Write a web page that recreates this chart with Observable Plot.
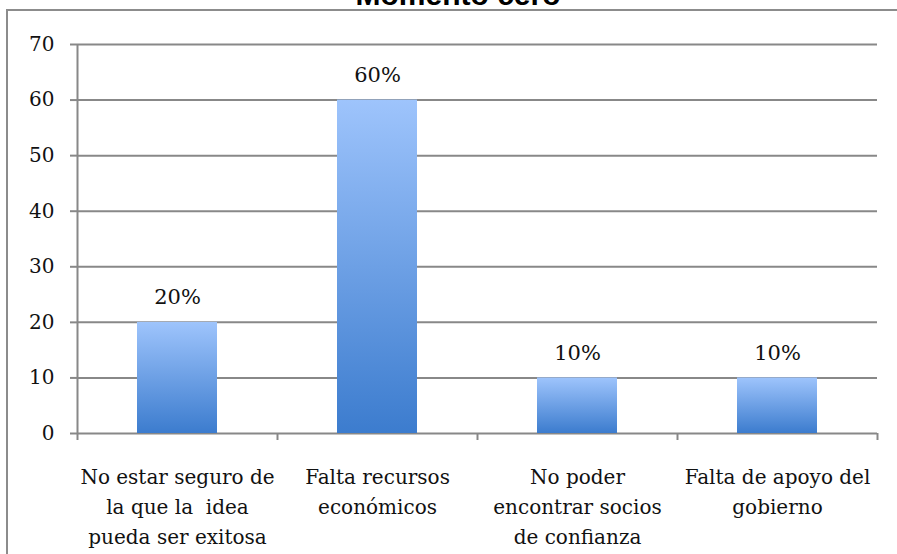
<!DOCTYPE html>
<html><head><meta charset="utf-8">
<script src="https://cdn.jsdelivr.net/npm/d3@7"></script>
<script src="https://cdn.jsdelivr.net/npm/@observablehq/plot@0.6"></script>
<style>
html,body{margin:0;padding:0;background:#fff;overflow:hidden;}
#wrap{position:relative;width:897px;height:554px;overflow:hidden;}
#frame{position:absolute;left:6px;top:9px;width:1000px;height:1000px;border-left:2px solid #8c8c8c;border-top:2px solid #8c8c8c;box-sizing:border-box;}
#title{position:absolute;left:0;width:916px;top:-20px;text-align:center;font:bold 30px "Liberation Sans",Arial,sans-serif;line-height:30px;color:#000;}
#chart{position:absolute;left:0;top:0;}
#chart text{white-space:pre;}
</style></head>
<body>
<div id="wrap">
  <div id="frame"></div>
  <div id="chart"></div>
  <div id="title">Momento cero</div>
</div>
<script>
const categories = [
  "No estar seguro de\nla que la  idea\npueda ser exitosa",
  "Falta recursos\neconómicos",
  "No poder\nencontrar socios\nde confianza",
  "Falta de apoyo del\ngobierno"
];
const values = [20, 60, 10, 10];
const valueLabels = ["20%", "60%", "10%", "10%"];
const yTicks = [0, 10, 20, 30, 40, 50, 60, 70];

const data = categories.map((c, i) => ({i, cat: c, value: values[i], label: valueLabels[i]}));
const bounds = d3.range(categories.length + 1);
const gray = "#888888";
const lw = 2;

const svg = Plot.plot({
  width: 897,
  height: 554,
  marginLeft: 77,
  marginRight: 20,
  marginTop: 44,
  marginBottom: 121,
  style: {fontFamily: "'DejaVu Serif', serif", fontSize: "20px", color: "#111", background: "transparent"},
  x: {domain: [0, categories.length]},
  y: {domain: [0, 70]},
  marks: [
    Plot.gridY(yTicks, {stroke: gray, strokeOpacity: 1, strokeWidth: lw}),
    Plot.axisY({ticks: yTicks, tickSize: 7, tickFormat: () => "", stroke: gray, strokeWidth: lw, label: null}),
    Plot.axisY({ticks: yTicks, tickSize: 0, tickPadding: 23, fill: "#111", fontSize: 20, label: null}),
    Plot.axisX({ticks: bounds, tickSize: 7, tickFormat: () => "", stroke: gray, strokeWidth: lw, label: null}),
    Plot.ruleX([0], {stroke: gray, strokeWidth: lw}),
    Plot.rectY(data, {x1: d => d.i + 0.3, x2: d => d.i + 0.7, y: "value", fill: "url(#barGrad)"}),
    Plot.text(data, {x: d => d.i + 0.5, y: "value", text: "label", lineAnchor: "bottom", dy: -18, fontSize: 21, fill: "#111"}),
    Plot.text(data, {x: d => d.i + 0.5, frameAnchor: "bottom", text: "cat", lineAnchor: "top", dy: 29, lineHeight: 1.5, fontSize: 20, fill: "#111"})
  ]
});

const defs = d3.select(svg).insert("defs", ":first-child");
const g = defs.append("linearGradient").attr("id", "barGrad").attr("x1", 0).attr("y1", 0).attr("x2", 0).attr("y2", 1);
g.append("stop").attr("offset", "0%").attr("stop-color", "#9ec4fc");
g.append("stop").attr("offset", "100%").attr("stop-color", "#3c7cce");

document.getElementById("chart").appendChild(svg);
</script>
</body></html>
